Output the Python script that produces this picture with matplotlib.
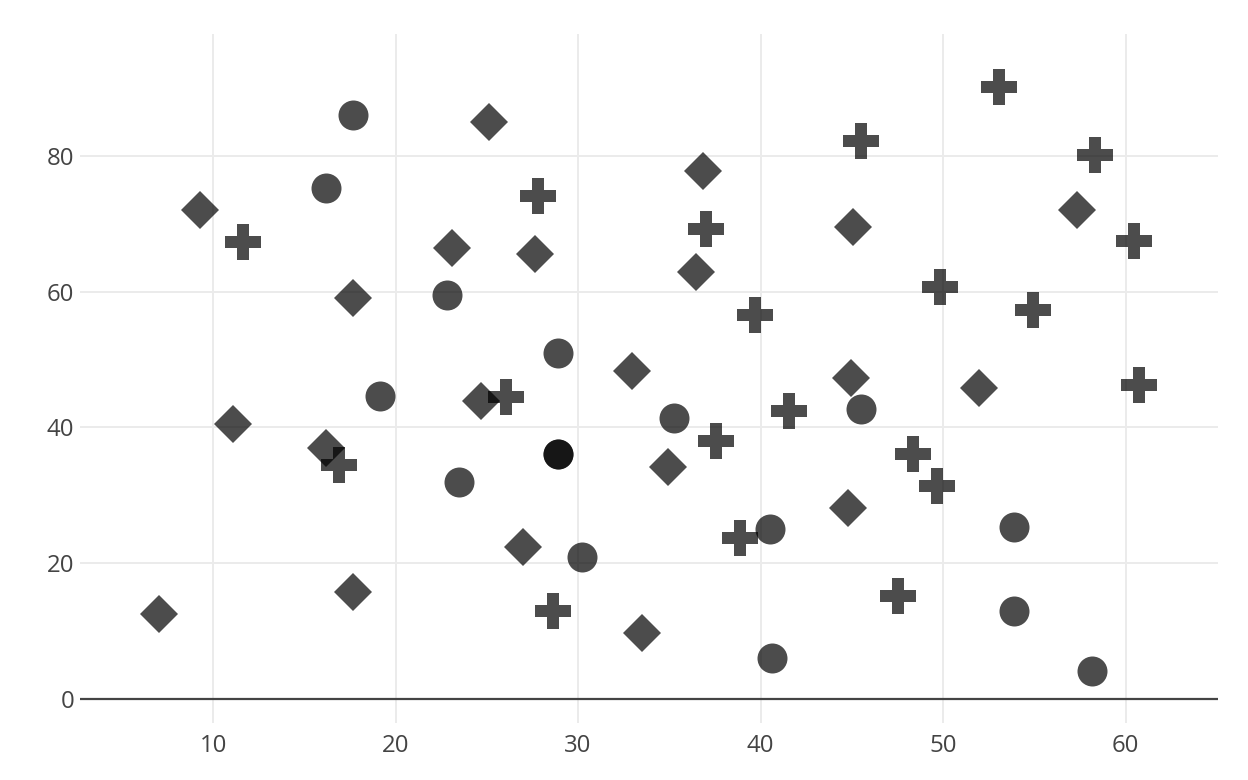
import numpy as np
import matplotlib
matplotlib.use("Agg")
import matplotlib.pyplot as plt

# circle trace (one point drawn twice -> darker spot)
circle_x = [17.69, 16.19, 22.80, 28.88, 19.15, 35.24, 45.48, 28.88, 28.88, 23.48,
            30.22, 40.50, 53.86, 53.86, 40.63, 58.15]
circle_y = [86.10, 75.33, 59.59, 51.03, 44.69, 41.40, 42.73, 36.13, 36.13, 32.00,
            20.94, 25.07, 25.36, 12.97, 6.03, 4.12]

# diamond trace
diamond_x = [9.30, 25.10, 36.84, 23.08, 27.66, 17.69, 45.08, 57.35, 36.44, 32.94,
             11.08, 24.68, 16.19, 34.94, 44.95, 51.96, 44.80, 27.00, 17.69, 7.03, 33.49]
diamond_y = [72.04, 85.02, 77.84, 66.48, 65.64, 59.06, 69.53, 72.04, 62.89, 48.29,
             40.56, 43.91, 36.97, 34.17, 47.23, 45.83, 28.12, 22.37, 15.73, 12.44, 9.68]

# cross trace
cross_x = [11.63, 27.80, 36.99, 45.50, 53.06, 58.32, 60.45, 49.81, 54.92, 60.73,
           39.69, 41.55, 26.05, 37.54, 48.33, 49.66, 16.89, 38.87, 47.51, 28.61]
cross_y = [67.36, 74.20, 69.28, 82.27, 90.23, 80.25, 67.56, 60.73, 57.33, 46.31,
           56.59, 42.48, 44.45, 38.05, 36.13, 31.41, 34.46, 23.74, 15.14, 12.97]

x_ticks = [10, 20, 30, 40, 50, 60]
y_ticks = [0, 20, 40, 60, 80]

plt.rcParams['font.family'] = ['Open Sans', 'DejaVu Sans']

fig = plt.figure(figsize=(12.48, 7.8), dpi=100)
ax = fig.add_axes([80 / 1248, 57 / 780, (1217.7 - 80) / 1248, (723 - 34) / 780])

ax.plot(circle_x, circle_y, linestyle='none', marker='o', markersize=21.6,
        color='black', alpha=0.7, markeredgewidth=0)
ax.plot(diamond_x, diamond_y, linestyle='none', marker='D', markersize=19,
        color='black', alpha=0.7, markeredgewidth=0)
ax.plot(cross_x, cross_y, linestyle='none', marker='P', markersize=26,
        color='black', alpha=0.7, markeredgewidth=0)

ax.set_xlim(2.71, 65.04)
ax.set_ylim(-3.6, 98.04)
ax.set_xticks(x_ticks)
ax.set_yticks(y_ticks)
ax.grid(True, color='#ebebeb', linewidth=1.4)
ax.set_axisbelow(True)
ax.axhline(0, color='#444444', linewidth=1.6, zorder=1)
for s in ax.spines.values():
    s.set_visible(False)
ax.tick_params(length=0, labelsize=17.3, labelcolor='#444444')
ax.tick_params(axis='x', pad=8)
ax.tick_params(axis='y', pad=4)

fig.savefig('out.png', dpi=100, facecolor='white')
